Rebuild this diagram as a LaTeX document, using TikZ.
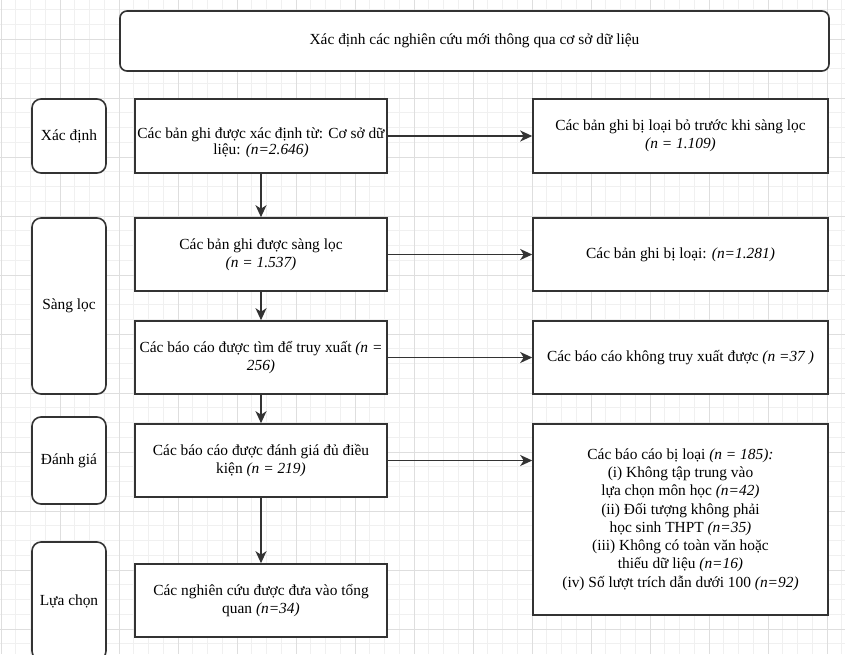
\documentclass[tikz,border=0pt]{standalone}
\usepackage{fontspec}
\setmainfont{Liberation Serif}
\usepackage{tikz}
\usetikzlibrary{arrows.meta}
\usetikzlibrary{calc}
\definecolor{linegray}{HTML}{333333}
\tikzset{box/.style={draw=linegray, line width=1.6pt, fill=white, align=center, inner sep=1pt},
 stage/.style={box, rounded corners=9pt},
 flow/.style={draw=linegray, line width=1.6pt, -{Stealth[length=12pt, width=11pt, inset=3.5pt]}}}

\begin{document}
\begin{tikzpicture}[x=1pt, y=-1pt, font=\fontsize{15.4}{18.3}\selectfont]
\useasboundingbox (0,0) rectangle (845,654);
\clip (0,0) rectangle (845,654);
\fill[white] (0,0) rectangle (845,654);
% canvas grid
\foreach \i in {0,...,57} {
 \draw[black!6, line width=.6pt] ({1+14.75*\i},0) --++(0,654);
 \draw[black!6, line width=.6pt] (0,{-20+14.75*\i}) --++(845,0);
}
\foreach \i in {0,...,14} {
 \draw[black!13, line width=.8pt] ({1+59*\i},0) --++(0,654);
 \draw[black!13, line width=.8pt] (0,{-20+59*\i}) --++(845,0);
}

\node[box, rounded corners=7pt, minimum width=709pt, minimum height=60pt] (goal) at (474.5,41) {X\'ac định c\'ac nghi\^en cứu mới th\^ong qua cơ sở dữ liệu};

\node[stage, minimum width=74pt, minimum height=74pt] (idn) at (69,136) {X\'ac định};
\node[stage, minimum width=74pt, minimum height=176pt] (scr) at (69,306) {S\`ang lọc};
\node[stage, minimum width=74pt, minimum height=87pt] (elg) at (69,460.5) {Đ\'anh gi\'a};
\node[stage, minimum width=74pt, minimum height=118pt] (inc) at (69,601) {Lựa chọn};

\node[box, minimum width=252pt, minimum height=74pt, font=\fontsize{15.4}{15.5}\selectfont] (rec) at (261,136) {\rule{0pt}{24pt}C\'ac bản ghi được x\'ac định từ: Cơ sở dữ\\liệu: \textit{(n=2.646)}};
\node[box, minimum width=252pt, minimum height=73pt] (scd) at (261,254.5) {C\'ac bản ghi được s\`ang lọc\\\textit{(n = 1.537)}};
\node[box, minimum width=252pt, minimum height=73pt] (ret) at (261,357.5) {C\'ac b\'ao c\'ao được t\`im để truy xuất \textit{(n =}\\\textit{256)}};
\node[box, minimum width=252pt, minimum height=73pt] (ass) at (261,460.5) {C\'ac b\'ao c\'ao được đ\'anh gi\'a đủ điều\\kiện \textit{(n = 219)}};
\node[box, minimum width=252pt, minimum height=73pt] (fin) at (261,600.5) {C\'ac nghi\^en cứu được đưa v\`ao tổng\\quan \textit{(n=34)}};

\node[box, minimum width=295pt, minimum height=74pt] (rmv) at (680.5,136) {C\'ac bản ghi bị loại bỏ trước khi s\`ang lọc\\\textit{(n = 1.109)}};
\node[box, minimum width=295pt, minimum height=73pt] (exc) at (680.5,254.5) {C\'ac bản ghi bị loại: \textit{(n=1.281)}};
\node[box, minimum width=295pt, minimum height=73pt] (nrt) at (680.5,357.5) {C\'ac b\'ao c\'ao kh\^ong truy xuất được \textit{(n =37 )}};
\node[box, minimum width=295pt, minimum height=191pt] (rep) at (680.5,519.5) {C\'ac b\'ao c\'ao bị loại \textit{(n = 185):}\\(i) Kh\^ong tập trung v\`ao\\lựa chọn m\^on học \textit{(n=42)}\\(ii) Đối tượng kh\^ong phải\\học sinh THPT \textit{(n=35)}\\(iii) Kh\^ong c\'o to\`an văn hoặc\\thiếu dữ liệu \textit{(n=16)}\\(iv) Số lượt tr\'ich dẫn dưới 100 \textit{(n=92)}};

\foreach \a/\b in {rec/scd, scd/ret, ret/ass, ass/fin} \draw[flow] (\a) -- (\b);
\foreach \a/\b in {rec/rmv, scd/exc, ret/nrt} \draw[flow] (\a) -- (\b);
\draw[flow] (ass.east) -- (ass.east -| rep.west);
\end{tikzpicture}
\end{document}
